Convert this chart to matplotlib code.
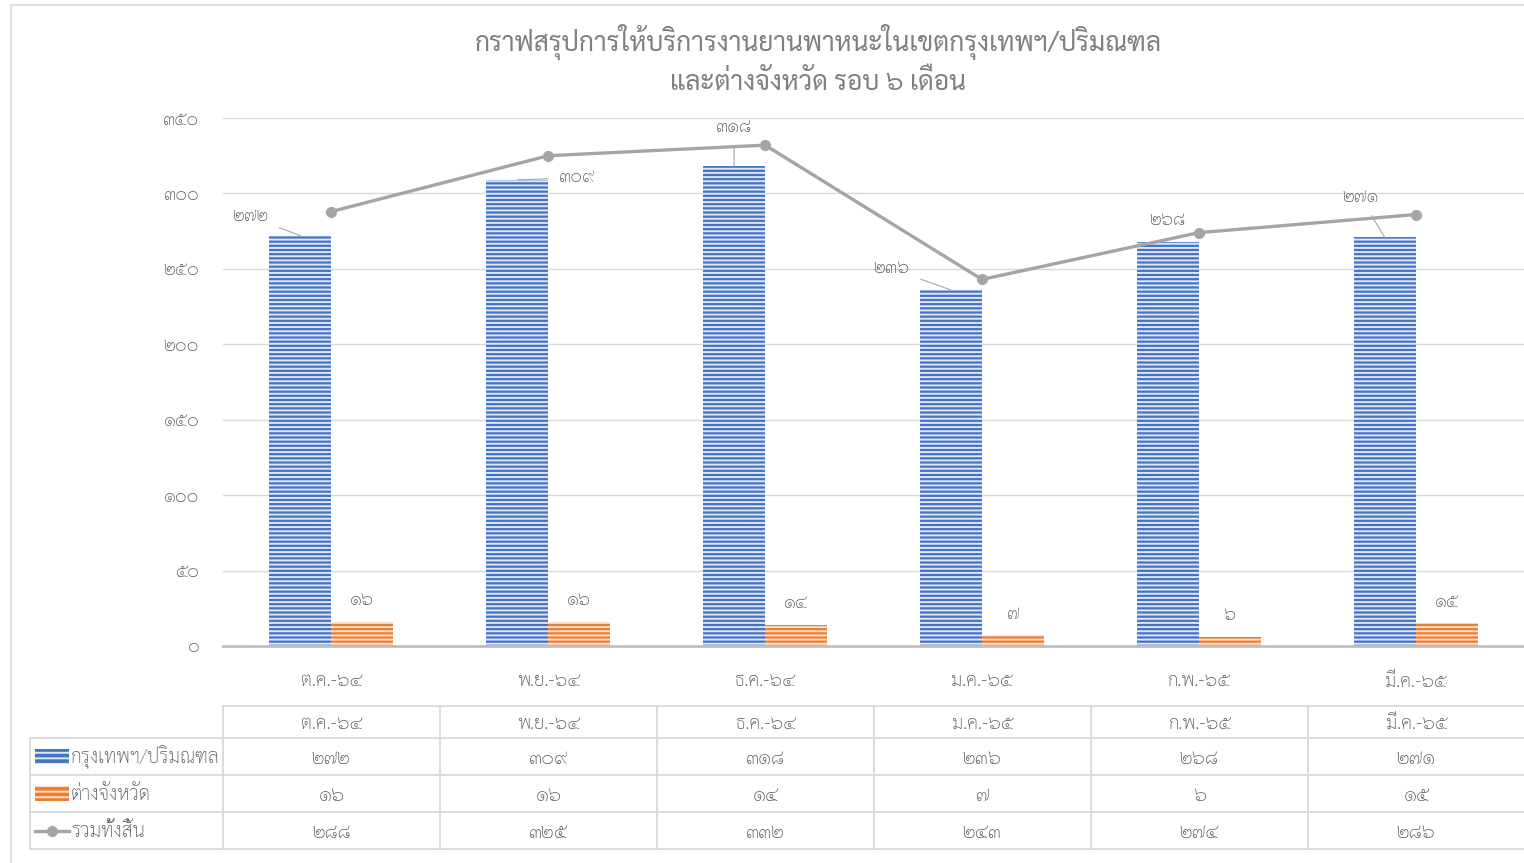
import matplotlib
matplotlib.use('Agg')
import matplotlib.pyplot as plt
from matplotlib import font_manager as fm
from matplotlib.ft2font import FT2Font
from matplotlib.patches import Rectangle

# pick an installed font that has Thai glyphs
thai_fonts = []
for f in fm.fontManager.ttflist:
    try:
        cm = FT2Font(f.fname).get_charmap()
        if 0x0E01 in cm and 0x0E50 in cm and f.name not in thai_fonts:
            thai_fonts.append(f.name)
    except Exception:
        pass
pref = [n for n in ['Sarabun', 'Noto Sans Thai Looped', 'Loma'] if n in thai_fonts]
plt.rcParams['font.family'] = pref[:1] + ['DejaVu Sans']
plt.rcParams['font.weight'] = 'light'
plt.rcParams['hatch.linewidth'] = 1.4

# data
months = ['ต.ค.-๖๔', 'พ.ย.-๖๔', 'ธ.ค.-๖๔', 'ม.ค.-๖๕', 'ก.พ.-๖๕', 'มี.ค.-๖๕']
bangkok = [272, 309, 318, 236, 268, 271]
province = [16, 16, 14, 7, 6, 15]
total = [288, 325, 332, 243, 274, 286]
series_names = ['กรุงเทพฯ/ปริมณฑล', 'ต่างจังหวัด', 'รวมทั้งสิ้น']
title = 'กราฟสรุปการให้บริการงานยานพาหนะในเขตกรุงเทพฯ/ปริมณฑล\nและต่างจังหวัด รอบ ๖ เดือน'

# label offsets (pixels) for bangkok labels, Excel moved them around the line
bk_offsets = [(-50, 19), (60, 2), (0, 39), (-59, 21), (0, 21), (-24, 40)]

THAI = str.maketrans('0123456789', '๐๑๒๓๔๕๖๗๘๙')


def th(n):
    return str(n).translate(THAI)


blue = '#4472C4'
orange = '#ED7D31'
gray = '#A5A5A5'
txt = '#595959'
grid = '#D9D9D9'

W, H = 1524, 863
fig = plt.figure(figsize=(W / 100, H / 100), dpi=100)

ax = fig.add_axes([223 / W, (H - 646) / H, 1301 / W, 528 / H])
x = list(range(len(months)))
bw = 62 / 217
ax.bar([i - bw / 2 for i in x], bangkok, bw, color=blue, edgecolor='#dfe7f6',
       linewidth=0, hatch='----', zorder=2)
ax.bar([i + bw / 2 for i in x], province, bw, color=orange, edgecolor='#fbe0cd',
       linewidth=0, hatch='----', zorder=2)
ax.plot(x, total, color=gray, lw=2.4, marker='o', ms=7, zorder=3)

ax.set_xlim(-0.5, 5.5)
ax.set_ylim(0, 350)
ax.set_yticks(range(0, 351, 50))
ax.set_yticklabels([th(v) for v in range(0, 351, 50)], color=txt, fontsize=13)
ax.set_xticks(x)
ax.set_xticklabels(months, color=txt, fontsize=13.5)
ax.tick_params(axis='y', length=0, pad=17)
ax.tick_params(axis='x', length=0, pad=19)
ax.grid(axis='y', color=grid, lw=1, zorder=0)
for s in ['top', 'right', 'left']:
    ax.spines[s].set_visible(False)
ax.spines['bottom'].set_color('#BFBFBF')
ax.spines['bottom'].set_linewidth(2)
ax.spines['bottom'].set_zorder(4)

for i, v in enumerate(bangkok):
    dx, dy = bk_offsets[i]
    far = abs(dx) > 30 or dy > 30
    ax.annotate(th(v), (i - bw / 2, v), xytext=(dx, dy), textcoords='offset pixels',
                ha='center', va='center', color=txt, fontsize=13, zorder=5,
                arrowprops=dict(arrowstyle='-', color='#A6A6A6', lw=0.8,
                                shrinkA=6, shrinkB=0) if far else None)
for i, v in enumerate(province):
    ax.annotate(th(v), (i + bw / 2, v), xytext=(0, 21), textcoords='offset pixels',
                ha='center', va='center', color=txt, fontsize=13)

# overlay in pixel coordinates for title, frame and data table
ov = fig.add_axes([0, 0, 1, 1], zorder=-1)
ov.set_xlim(0, W)
ov.set_ylim(H, 0)
ov.axis('off')
ov.plot([11, 11, W], [H, 5, 5], color=grid, lw=1.2)

ov.text(818, 60, title, ha='center', va='center', color='#808080', fontsize=19,
        fontweight='normal', linespacing=1.45)

col_x = [223 + 217 * i for i in range(7)]
row_y = [706, 738, 775, 812, 849]
tcol = '#D9D9D9'
ov.plot([223, W], [row_y[0], row_y[0]], color=tcol, lw=1.3)
for yy in row_y[1:]:
    ov.plot([30, W], [yy, yy], color=tcol, lw=1.3)
ov.plot([30, 30], [row_y[1], row_y[-1]], color=tcol, lw=1.3)
for xx in col_x:
    ov.plot([xx, xx], [row_y[0], row_y[-1]], color=tcol, lw=1.3)

rows = [months, [th(v) for v in bangkok], [th(v) for v in province], [th(v) for v in total]]
for r, vals in enumerate(rows):
    yc = (row_y[r] + row_y[r + 1]) / 2 + 2
    for c, s in enumerate(vals):
        ov.text(col_x[c] + 108.5, yc, s, ha='center', va='center', color=txt,
                fontsize=13.5 if r == 0 else 14)

# legend keys in the table
for r, (name, col, ec) in enumerate(zip(series_names, [blue, orange, None], ['#dfe7f6', '#fbe0cd', None])):
    yc = (row_y[r + 1] + row_y[r + 2]) / 2
    if col is not None:
        ov.add_patch(Rectangle((35, yc - 7.5), 34, 15, facecolor=col, edgecolor=ec,
                               linewidth=0, hatch='---'))
    else:
        ov.plot([35, 69], [yc, yc], color=gray, lw=2.4)
        ov.plot([52], [yc], marker='o', color=gray, ms=7)
    ov.text(71, yc + 1, name, ha='left', va='center', color=txt, fontsize=14)

fig.savefig('out.png', dpi=100)
